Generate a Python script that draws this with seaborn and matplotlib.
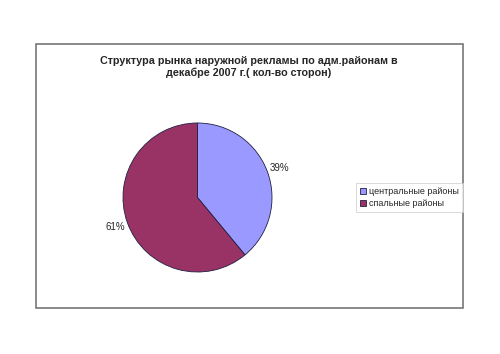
import matplotlib
matplotlib.use("Agg")
import matplotlib.pyplot as plt
import matplotlib.patches as mpatches
import seaborn as sns

# data
labels = ["центральные районы", "спальные районы"]
values = [39, 61]
colors = ["#9999FF", "#993366"]
title = "Структура рынка наружной рекламы по адм.районам в\nдекабре 2007 г.( кол-во сторон)"

sns.set_style("white")
plt.rcParams['font.family'] = ['Liberation Sans', 'DejaVu Sans']

fig = plt.figure(figsize=(5, 3.54), dpi=100)

# outer chart frame
frame = mpatches.Rectangle((36 / 500, 1 - 308 / 354), 427 / 500, 264 / 354,
                           transform=fig.transFigure, fill=False,
                           edgecolor="#777777", linewidth=1.2)
fig.patches.append(frame)

fig.text(0.497, 1 - 67 / 354, title, ha="center", va="center",
         fontsize=7.75, fontweight="bold", linespacing=1.2)

ax = fig.add_axes([123 / 500, 1 - 272 / 354, 149 / 500, 149 / 354])
wedges, texts, autotexts = ax.pie(values, colors=colors, startangle=90,
                                  counterclock=False, autopct="%1.0f%%",
                                  pctdistance=1.17,
                                  wedgeprops=dict(edgecolor="#202040", linewidth=0.6),
                                  textprops=dict(fontsize=7))
ax.set_xlim(-1, 1)
ax.set_ylim(-1, 1)
ax.set_aspect("auto")
ax.axis("off")

leg = fig.legend(wedges, labels, loc="upper left",
                 bbox_to_anchor=(356 / 500, 1 - 183 / 354),
                 fontsize=6.5, frameon=True, fancybox=False,
                 handlelength=0.7, handleheight=0.7, handletextpad=0.3,
                 borderpad=0.45, labelspacing=0.35, borderaxespad=0)
leg.get_frame().set_edgecolor("#c8c8c8")
leg.get_frame().set_linewidth(0.6)

plt.savefig("out.png", dpi=100)
